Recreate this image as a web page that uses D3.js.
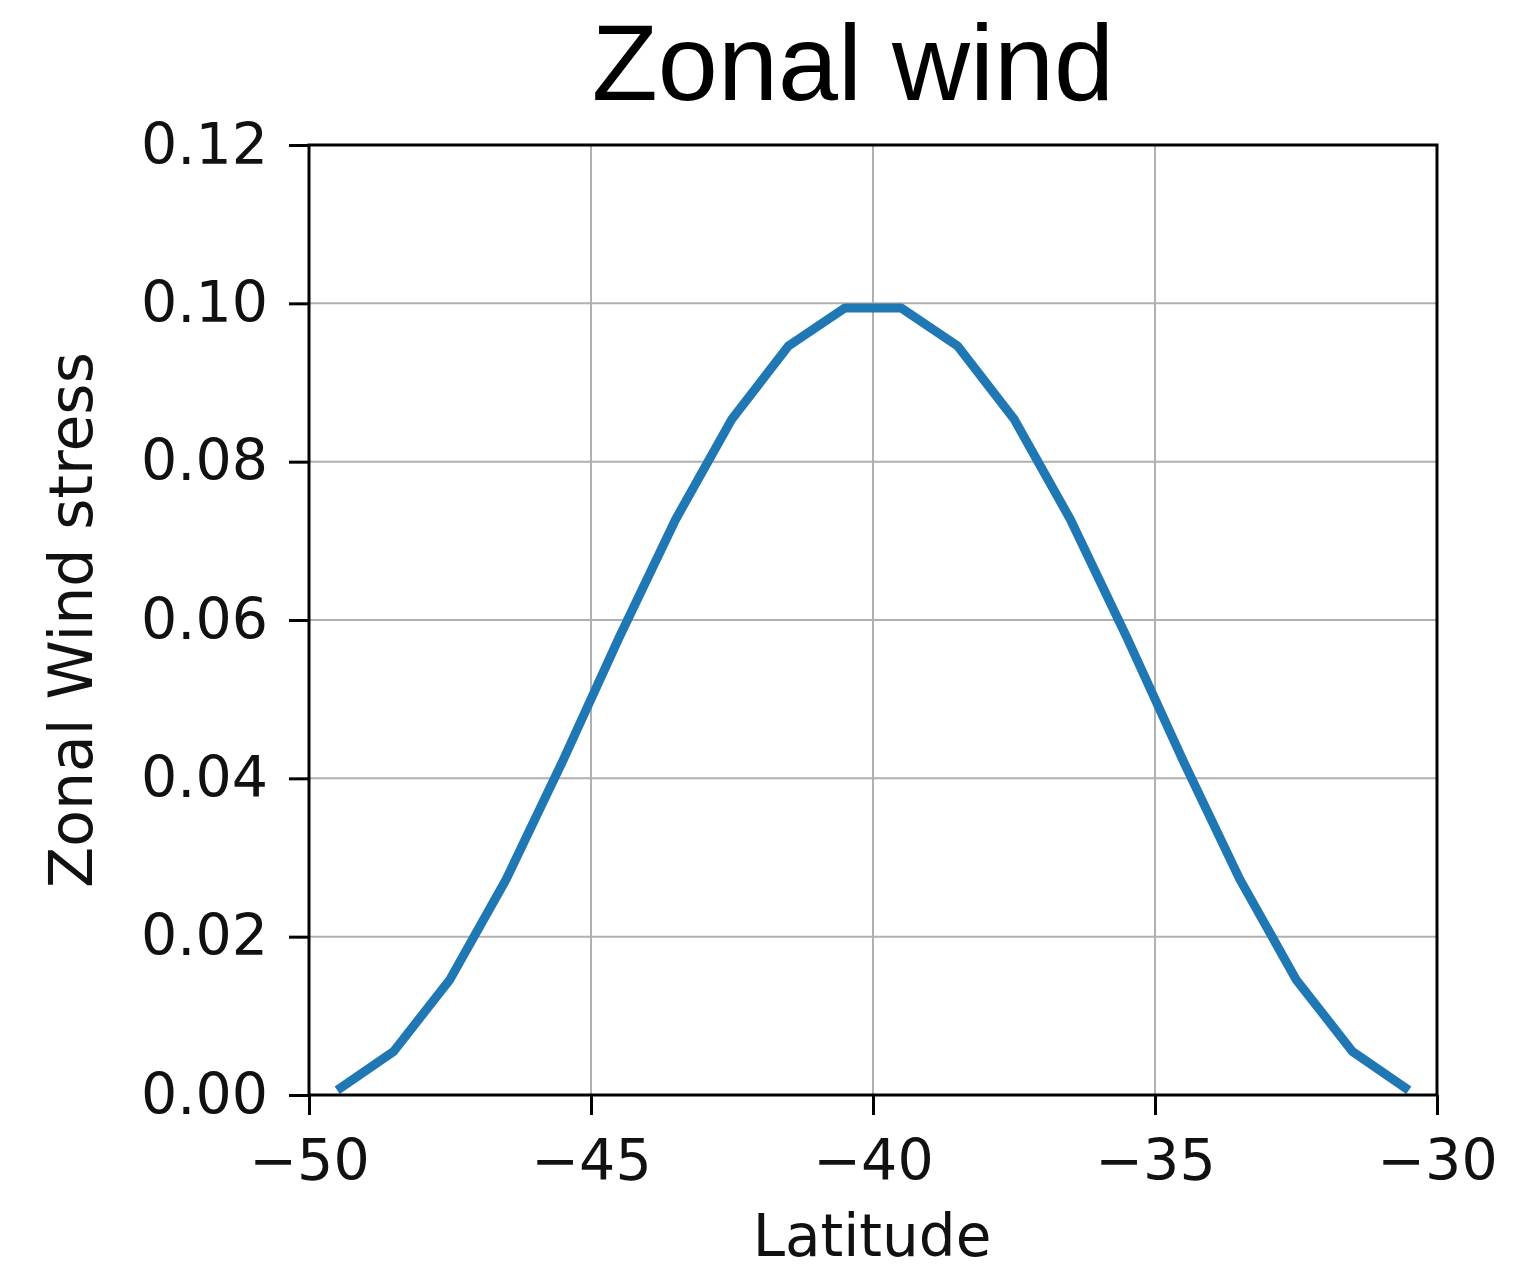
<!DOCTYPE html>
<html><head><meta charset="utf-8">
<script src="https://d3js.org/d3.v7.min.js"></script>
<style>body{margin:0;background:#fff}</style>
</head><body>
<script>
const latitudes = [-49.5,-48.5,-47.5,-46.5,-45.5,-44.5,-43.5,-42.5,-41.5,-40.5,-39.5,-38.5,-37.5,-36.5,-35.5,-34.5,-33.5,-32.5,-31.5,-30.5];
const stress = [0.0006,0.0055,0.0146,0.0273,0.0422,0.0578,0.0727,0.0854,0.0946,0.0994,0.0994,0.0946,0.0854,0.0727,0.0578,0.0422,0.0273,0.0146,0.0055,0.0006];
const xTicks = [-50,-45,-40,-35,-30];
const yTicks = [0,0.02,0.04,0.06,0.08,0.10,0.12];
const titleText = "Zonal wind", xLabel = "Latitude", yLabel = "Zonal Wind stress";

const W=1538,H=1274;
const L=309,R=1437,T=145,B=1095;
const svg=d3.select("body").append("svg").attr("width",W).attr("height",H);
const x=d3.scaleLinear().domain([-50,-30]).range([L,R]);
const y=d3.scaleLinear().domain([0,0.12]).range([B,T]);
const tickFont="DejaVu Sans";
const fs=57;

// grid
svg.append("g").selectAll("line.vx").data(xTicks).join("line")
  .attr("x1",d=>x(d)).attr("x2",d=>x(d)).attr("y1",T).attr("y2",B)
  .attr("stroke","#b0b0b0").attr("stroke-width",2);
svg.append("g").selectAll("line.hy").data(yTicks).join("line")
  .attr("x1",L).attr("x2",R).attr("y1",d=>y(d)).attr("y2",d=>y(d))
  .attr("stroke","#b0b0b0").attr("stroke-width",2);

// line
svg.append("path").datum(latitudes.map((l,i)=>[l,stress[i]]))
  .attr("fill","none").attr("stroke","#1f77b4").attr("stroke-width",9)
  .attr("stroke-linejoin","round").attr("stroke-linecap","butt")
  .attr("d",d3.line().x(d=>x(d[0])).y(d=>y(d[1])));

// axes
const xa=svg.append("g").attr("transform",`translate(0,${B})`)
  .call(d3.axisBottom(x).tickValues(xTicks).tickSize(20).tickPadding(25).tickFormat(d=>d<0?"\u2212"+Math.abs(d):d));
const ya=svg.append("g").attr("transform",`translate(${L},0)`)
  .call(d3.axisLeft(y).tickValues(yTicks).tickSize(20).tickPadding(21).tickFormat(d3.format(".2f")));
[xa,ya].forEach(g=>{
  g.select(".domain").remove();
  g.selectAll(".tick line").attr("stroke","#000").attr("stroke-width",3);
  g.selectAll(".tick text").attr("font-family",tickFont).attr("font-size",fs).attr("fill","#111");
});
// frame
svg.append("rect").attr("x",L).attr("y",T).attr("width",R-L).attr("height",B-T)
  .attr("fill","none").attr("stroke","#000").attr("stroke-width",3);

svg.append("text").attr("x",872).attr("y",1256).attr("text-anchor","middle")
  .attr("font-family",tickFont).attr("font-size",58).attr("fill","#111").text(xLabel);
svg.append("text").attr("transform","translate(92,620) rotate(-90)").attr("text-anchor","middle")
  .attr("font-family",tickFont).attr("font-size",60).attr("fill","#111").text(yLabel);
svg.append("text").attr("x",853).attr("y",100).attr("text-anchor","middle")
  .attr("font-family","Liberation Sans, Arial, sans-serif").attr("font-size",108).attr("fill","#000").text(titleText);
</script>
</body></html>
